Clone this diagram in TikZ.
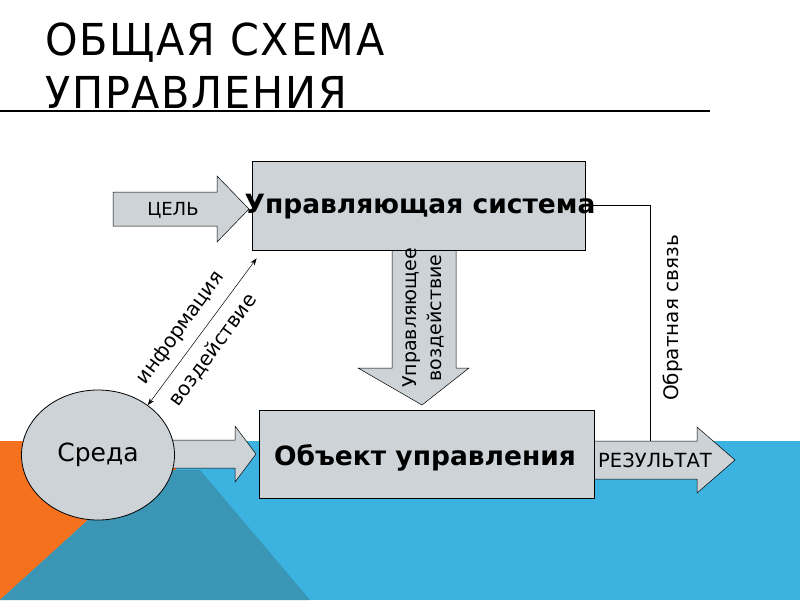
\documentclass[tikz,border=0pt]{standalone}
\usepackage{fontspec}
\setmainfont{DejaVu Sans}
\newfontfamily\titlefont[FakeStretch=0.94,LetterSpace=4]{DejaVu Sans}
\usetikzlibrary{arrows.meta, positioning, shapes.geometric}

\definecolor{boxgray}{RGB}{205,211,214}
\definecolor{slideorange}{RGB}{245,113,30}
\definecolor{slideteal}{RGB}{58,150,180}
\definecolor{slideblue}{RGB}{60,178,224}

% block arrow pointing right: x start, x head base, x tip, y centre, body half, head half
\newcommand{\rightblk}[6]{%
  \draw[blockarrow] (#1,#4-#5) -- (#2,#4-#5) -- (#2,#4-#6) -- (#3,#4)
    -- (#2,#4+#6) -- (#2,#4+#5) -- (#1,#4+#5) -- cycle;}

\tikzset{
  block/.style = {draw, fill=boxgray, line width=0.8pt, inner sep=0pt},
  blockarrow/.style = {draw, fill=boxgray, line width=0.5pt},
  lbl/.style = {inner sep=0pt, font=\fontsize{20}{24}\selectfont},
  boldlbl/.style = {inner sep=0pt, font=\bfseries\fontsize{26.5}{30}\selectfont},
}

\begin{document}
\begin{tikzpicture}[x=1pt, y=-1pt]
    \useasboundingbox (0,0) rectangle (800,600);

    % background
    \fill[slideblue] (0,441) rectangle (800,600);
    \fill[slideorange] (0,441) -- (176,441) -- (176,470) -- (143,470) -- (0,600) -- cycle;
    \fill[slideteal] (143,470) -- (200,470) -- (310,600) -- (0,600) -- cycle;

    % title
    \node (title1) [anchor=base west, inner sep=0pt, font=\titlefont\fontsize{44}{54}\selectfont] at (45,55) {ОБЩАЯ СХЕМА};
    \node (title2) [anchor=base west, inner sep=0pt, font=\titlefont\fontsize{44}{54}\selectfont] at (45,108) {УПРАВЛЕНИЯ};
    \draw[line width=1.2pt] (0,111) -- (710,111);

    % block arrows
    \rightblk{113}{217}{249}{209}{17}{33}
    \rightblk{150}{235}{256}{454}{14}{28}
    \rightblk{594}{697}{735}{460}{19}{33}
    \draw[blockarrow] (392,250) -- (456,250) -- (456,368) -- (469,368) -- (422,405)
        -- (358,368) -- (392,368) -- cycle;

    % main blocks
    \node (sys) [block, minimum width=333pt, minimum height=89pt] at (418.5,205.5) {};
    \node (obj) [block, minimum width=335pt, minimum height=88pt] at (426.5,454) {};
    \node (env) [ellipse, draw, fill=boxgray, line width=0.8pt, minimum width=153pt, minimum height=130pt] at (98,455) {};

    \node (systext) [boldlbl] at (420,207) {Управляющая система};
    \node (objtext) [boldlbl] at (425,458) {Объект управления};
    \node (envtext) [lbl, font=\fontsize{25}{29}\selectfont] at (98,455) {Среда};
    \node (goal) [lbl, font=\fontsize{18}{21}\selectfont] at (173,210) {ЦЕЛЬ};
    \node (result) [lbl, font=\fontsize{19.5}{23}\selectfont] at (655,460) {РЕЗУЛЬТАТ};
    \node (control) [lbl, rotate=90, align=center, font=\fontsize{19}{25}\selectfont] at (423,318) {Управляющее\\воздействие};

    % feedback
    \coordinate (fbend) at (650,441);
    \draw[line width=0.6pt] (sys.east) -- (sys.east -| fbend) -- (fbend);
    \node (feedback) [lbl, rotate=90] at (673,318) {Обратная связь};

    % information / action
    \draw[line width=0.5pt, {Stealth[length=7pt,width=5pt]}-{Stealth[length=7pt,width=5pt]}]
        (env.45) -- ([xshift=5pt, yshift=-8pt]sys.south west);
    \node (info) [lbl, rotate=54] at (181,328) {информация};
    \node (action) [lbl, rotate=54] at (213,350) {воздействие};
\end{tikzpicture}
\end{document}
